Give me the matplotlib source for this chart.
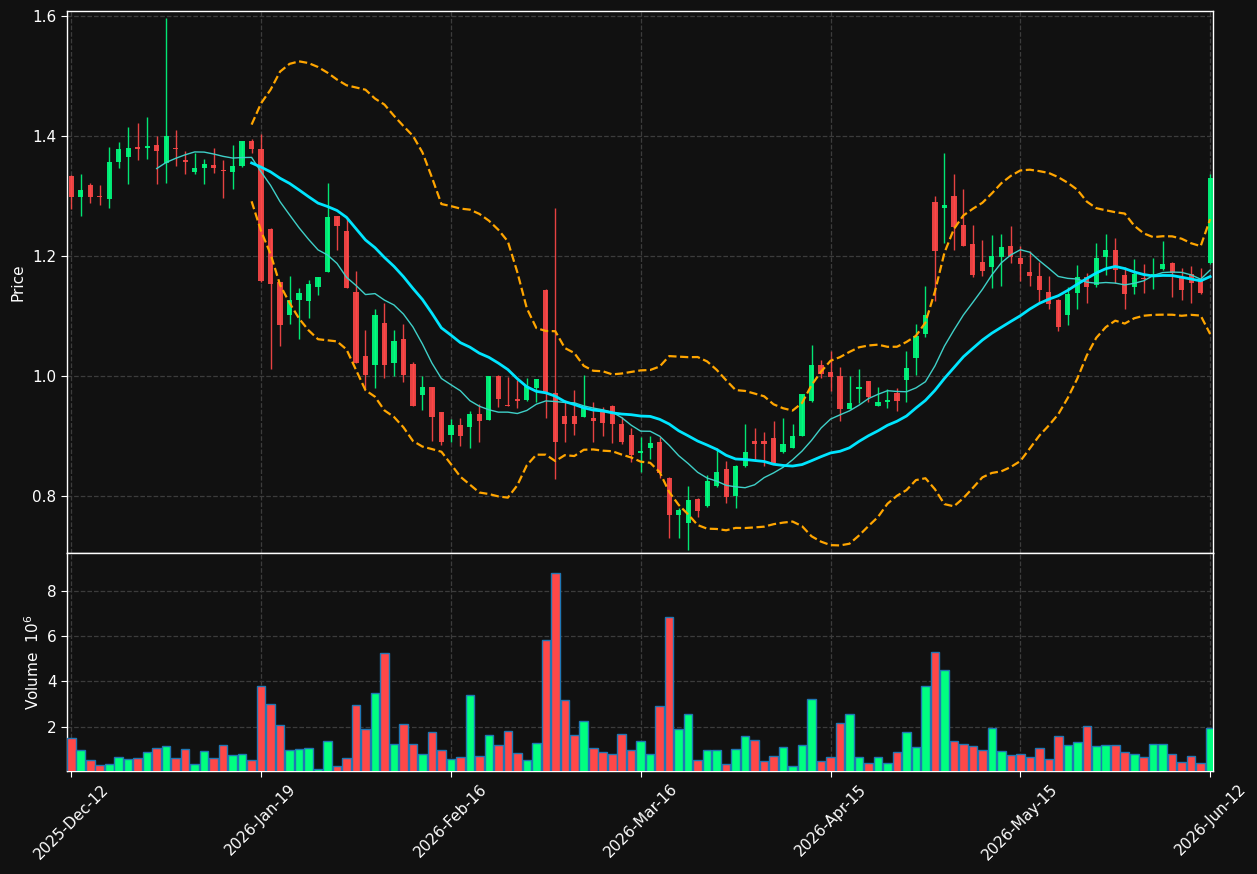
import numpy as np
import pandas as pd
import matplotlib
matplotlib.use("Agg")
import matplotlib.pyplot as plt

# OHLC (121 sessions)
opens = [1.334, 1.299, 1.319, 1.300, 1.296, 1.357, 1.366, 1.382, 1.381, 1.386,
         1.356, 1.381, 1.361, 1.341, 1.347, 1.352, 1.343, 1.341, 1.351, 1.392,
         1.379, 1.246, 1.157, 1.103, 1.128, 1.126, 1.149, 1.174, 1.267, 1.242,
         1.141, 1.034, 1.019, 1.089, 1.023, 1.062, 1.021, 0.969, 0.982, 0.940,
         0.902, 0.919, 0.916, 0.937, 0.927, 1.001, 0.952, 0.962, 0.960, 0.981,
         1.144, 0.972, 0.934, 0.934, 0.933, 0.931, 0.941, 0.951, 0.921, 0.902,
         0.873, 0.881, 0.891, 0.831, 0.769, 0.756, 0.796, 0.783, 0.817, 0.845,
         0.801, 0.850, 0.892, 0.892, 0.897, 0.874, 0.881, 0.901, 0.959, 1.019,
         1.007, 1.001, 0.946, 0.979, 0.992, 0.951, 0.958, 0.972, 0.994, 1.031,
         1.071, 1.291, 1.281, 1.301, 1.252, 1.221, 1.191, 1.183, 1.199, 1.217,
         1.197, 1.174, 1.167, 1.140, 1.128, 1.103, 1.139, 1.166, 1.153, 1.199,
         1.211, 1.169, 1.149, 1.164, 1.168, 1.179, 1.189, 1.166, 1.170, 1.163,
         1.189]
highs = [1.336, 1.338, 1.323, 1.319, 1.382, 1.390, 1.415, 1.422, 1.433, 1.400,
         1.598, 1.410, 1.376, 1.373, 1.363, 1.380, 1.360, 1.385, 1.393, 1.395,
         1.404, 1.247, 1.158, 1.167, 1.147, 1.160, 1.166, 1.323, 1.268, 1.263,
         1.175, 1.078, 1.112, 1.122, 1.078, 1.088, 1.024, 1.001, 0.983, 0.941,
         0.929, 0.930, 0.943, 0.954, 1.001, 1.002, 0.999, 0.994, 0.997, 0.995,
         1.145, 1.280, 0.961, 0.977, 1.003, 0.957, 0.949, 0.952, 0.932, 0.914,
         0.899, 0.900, 0.899, 0.832, 0.781, 0.817, 0.797, 0.836, 0.881, 0.859,
         0.853, 0.921, 0.914, 0.908, 0.926, 0.930, 0.920, 0.971, 1.052, 1.028,
         1.042, 1.015, 1.000, 1.013, 0.993, 0.983, 0.979, 0.981, 1.042, 1.088,
         1.150, 1.301, 1.372, 1.337, 1.312, 1.252, 1.227, 1.235, 1.237, 1.250,
         1.218, 1.209, 1.190, 1.167, 1.129, 1.149, 1.185, 1.173, 1.222, 1.237,
         1.230, 1.183, 1.195, 1.187, 1.197, 1.226, 1.190, 1.180, 1.184, 1.180,
         1.338]
lows = [1.279, 1.268, 1.289, 1.286, 1.281, 1.348, 1.320, 1.361, 1.363, 1.320,
        1.323, 1.351, 1.338, 1.338, 1.321, 1.339, 1.298, 1.313, 1.349, 1.372,
        1.158, 1.012, 1.051, 1.087, 1.062, 1.097, 1.135, 1.174, 1.211, 1.147,
        1.022, 0.978, 0.981, 0.998, 1.000, 0.991, 0.951, 0.944, 0.893, 0.886,
        0.891, 0.884, 0.881, 0.890, 0.927, 0.949, 0.950, 0.947, 0.959, 0.957,
        0.931, 0.828, 0.890, 0.902, 0.932, 0.891, 0.901, 0.889, 0.888, 0.858,
        0.841, 0.863, 0.831, 0.730, 0.730, 0.710, 0.766, 0.782, 0.816, 0.789,
        0.781, 0.849, 0.861, 0.850, 0.855, 0.873, 0.880, 0.900, 0.958, 0.997,
        0.976, 0.926, 0.945, 0.956, 0.957, 0.950, 0.947, 0.942, 0.957, 1.003,
        1.065, 1.125, 1.222, 1.211, 1.217, 1.166, 1.167, 1.148, 1.150, 1.189,
        1.159, 1.150, 1.124, 1.113, 1.075, 1.086, 1.112, 1.122, 1.149, 1.169,
        1.155, 1.112, 1.138, 1.139, 1.145, 1.178, 1.133, 1.128, 1.122, 1.138,
        1.188]
closes = [1.299, 1.311, 1.299, 1.299, 1.357, 1.379, 1.381, 1.379, 1.384, 1.376,
          1.401, 1.379, 1.358, 1.347, 1.354, 1.347, 1.342, 1.351, 1.392, 1.379,
          1.159, 1.154, 1.086, 1.128, 1.139, 1.154, 1.166, 1.266, 1.251, 1.148,
          1.023, 1.002, 1.102, 1.019, 1.059, 1.002, 0.951, 0.982, 0.933, 0.891,
          0.919, 0.901, 0.937, 0.926, 1.001, 0.962, 0.951, 0.959, 0.984, 0.995,
          0.974, 0.891, 0.921, 0.921, 0.949, 0.926, 0.922, 0.921, 0.891, 0.869,
          0.875, 0.889, 0.839, 0.769, 0.777, 0.794, 0.776, 0.825, 0.840, 0.799,
          0.850, 0.874, 0.888, 0.888, 0.856, 0.887, 0.901, 0.971, 1.019, 1.004,
          0.999, 0.945, 0.955, 0.982, 0.966, 0.958, 0.961, 0.959, 1.014, 1.068,
          1.102, 1.209, 1.285, 1.249, 1.218, 1.169, 1.176, 1.201, 1.216, 1.199,
          1.188, 1.168, 1.144, 1.121, 1.083, 1.137, 1.165, 1.149, 1.198, 1.211,
          1.178, 1.138, 1.171, 1.163, 1.170, 1.187, 1.173, 1.144, 1.156, 1.139,
          1.331]
# volume in millions
volumes = [1.50, 0.96, 0.52, 0.30, 0.34, 0.65, 0.56, 0.61, 0.87, 1.05,
           1.14, 0.61, 1.01, 0.34, 0.92, 0.61, 1.19, 0.74, 0.79, 0.52,
           3.81, 3.01, 2.07, 0.96, 1.01, 1.05, 0.16, 1.36, 0.25, 0.61,
           2.96, 1.91, 3.50, 5.27, 1.23, 2.12, 1.23, 0.79, 1.76, 0.96,
           0.56, 0.65, 3.41, 0.70, 1.63, 1.19, 1.81, 0.83, 0.52, 1.27,
           5.85, 8.79, 3.19, 1.63, 2.25, 1.05, 0.87, 0.79, 1.67, 0.96,
           1.36, 0.79, 2.92, 6.83, 1.90, 2.56, 0.52, 0.96, 0.96, 0.34,
           1.01, 1.59, 1.41, 0.47, 0.70, 1.10, 0.25, 1.19, 3.23, 0.47,
           0.65, 2.18, 2.58, 0.65, 0.40, 0.65, 0.39, 0.87, 1.76, 1.10,
           3.81, 5.32, 4.52, 1.36, 1.23, 1.14, 0.96, 1.94, 0.92, 0.74,
           0.79, 0.65, 1.05, 0.56, 1.59, 1.19, 1.32, 2.03, 1.14, 1.19,
           1.19, 0.87, 0.79, 0.65, 1.23, 1.23, 0.79, 0.43, 0.70, 0.39,
           1.94]
tick_pos = [0, 20, 40, 60, 80, 100, 120]
tick_labels = ["2025-Dec-12", "2026-Jan-19", "2026-Feb-16", "2026-Mar-16",
               "2026-Apr-15", "2026-May-15", "2026-Jun-12"]

df = pd.DataFrame({"o": opens, "h": highs, "l": lows, "c": closes, "v": volumes})
x = np.arange(len(df))
ma10 = df["c"].rolling(10).mean()
ma20 = df["c"].rolling(20).mean()
sd20 = df["c"].rolling(20).std()
upper = ma20 + 2 * sd20
lower = ma20 - 2 * sd20

up_c = "#00ff80"
dn_c = "#ff4848"
bg = "#111111"
grid_c = "#3c3c3c"
colors = [up_c if c >= o else dn_c for o, c in zip(df["o"], df["c"])]

fig = plt.figure(figsize=(12.57, 8.74), dpi=100, facecolor=bg)
ax = fig.add_axes([0.0533, 0.3673, 0.9117, 0.6201], facecolor=bg)
axv = fig.add_axes([0.0533, 0.1178, 0.9117, 0.2495], facecolor=bg, sharex=ax)

# candles
ax.vlines(x, df["l"], df["h"], colors=colors, linewidth=1, alpha=0.9, zorder=2)
body_lo = np.minimum(df["o"], df["c"])
body_h = np.maximum(np.abs(df["c"] - df["o"]), 0.0015)
ax.bar(x, body_h, bottom=body_lo, width=0.55, color=colors, alpha=0.9,
       linewidth=0, zorder=3)

ax.plot(x, ma10, color="#3fd0c8", linewidth=1, zorder=4)
ax.plot(x, ma20, color="#00e5ff", linewidth=2, zorder=4)
ax.plot(x, upper, color="#ffa500", linewidth=1.6, linestyle="--", zorder=4)
ax.plot(x, lower, color="#ffa500", linewidth=1.6, linestyle="--", zorder=4)

# volume
axv.bar(x, df["v"], width=0.9, color=colors, edgecolor="#1f77b4", linewidth=1, zorder=3)
axv.set_ylim(0.3 * min(volumes), 1.1 * max(volumes))
axv.set_yticks([2, 4, 6, 8])

ax.set_xlim(-0.45, 120.3)
ax.set_ylim(0.7055, 1.609)
ax.set_yticks([0.8, 1.0, 1.2, 1.4, 1.6])
axv.set_xticks(tick_pos)
axv.set_xticklabels(tick_labels, rotation=45)
plt.setp(ax.get_xticklabels(), visible=False)

for a in (ax, axv):
    a.grid(True, color=grid_c, linestyle="--", linewidth=0.9)
    a.set_axisbelow(True)
    a.tick_params(colors="white", labelsize=11, length=4)
    for s in a.spines.values():
        s.set_color("white")
        s.set_linewidth(1)

ax.set_ylabel("Price", color="white", fontsize=11)
axv.set_ylabel("Volume  $10^{6}$", color="white", fontsize=11)
ax.yaxis.set_label_coords(-0.036, 0.5)
axv.yaxis.set_label_coords(-0.022, 0.5)

fig.savefig("out.png", facecolor=bg)
